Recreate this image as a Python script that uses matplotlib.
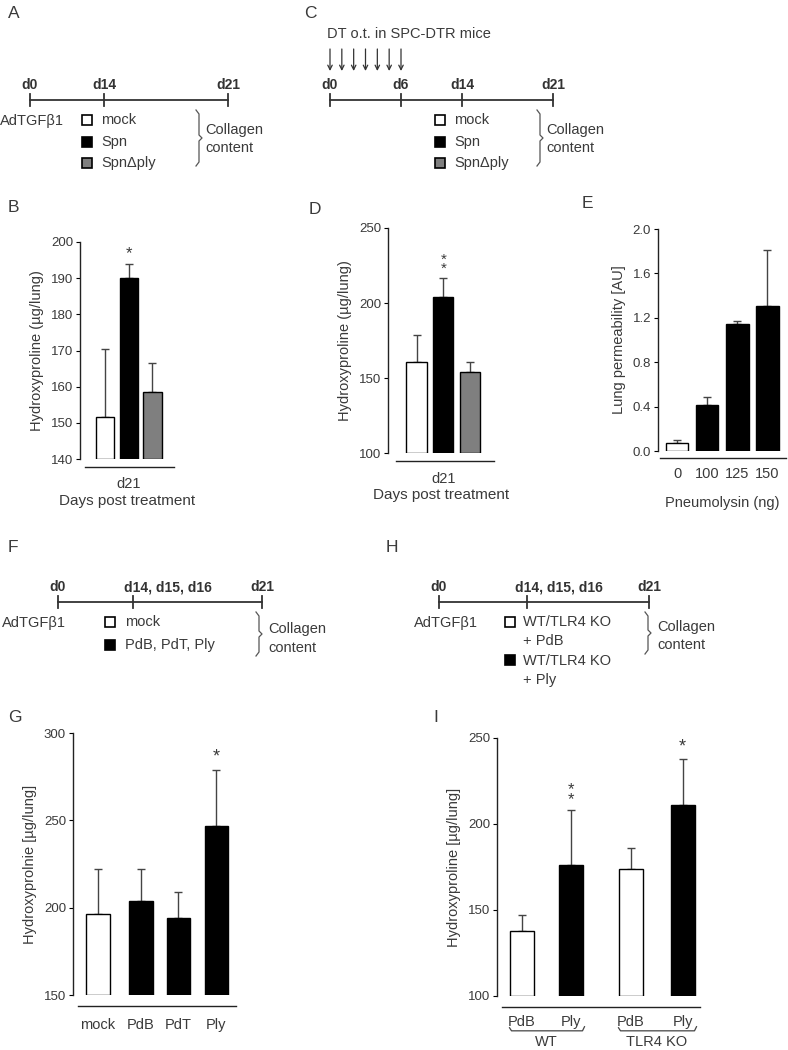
import matplotlib
matplotlib.use("Agg")
import matplotlib.pyplot as plt

plt.rcParams['font.family'] = ['Liberation Sans', 'DejaVu Sans']

W, H = 788, 1050
TXT = '#3a3a3a'
ECOL = '#444444'

# ---------------- data ----------------
B_groups = ['mock', 'Spn', 'SpnΔply']
B_vals = [151.5, 190.0, 158.5]
B_err = [19.0, 4.0, 8.0]
B_colors = ['white', 'black', '#7f7f7f']

D_vals = [161.0, 204.0, 154.0]
D_err = [18.0, 13.0, 7.0]

E_labels = ['0', '100', '125', '150']
E_vals = [0.07, 0.41, 1.14, 1.31]
E_err = [0.03, 0.08, 0.03, 0.50]
E_colors = ['white', 'black', 'black', 'black']

G_labels = ['mock', 'PdB', 'PdT', 'Ply']
G_vals = [196.5, 204.0, 194.0, 247.0]
G_err = [25.5, 18.0, 15.0, 32.0]
G_colors = ['white', 'black', 'black', 'black']

I_labels = ['PdB', 'Ply', 'PdB', 'Ply']
I_groups = ['WT', 'TLR4 KO']
I_vals = [138.0, 176.0, 174.0, 211.0]
I_err = [9.0, 32.0, 12.0, 27.0]
I_colors = ['white', 'black', 'white', 'black']

TICK_FS = 9.5
YLAB_FS = 10.5
XLAB_FS = 11
TXT_FS = 10.5
LET_FS = 12.5

fig = plt.figure(figsize=(W / 100, H / 100), dpi=100)

# overlay for schematic timelines and panel letters
ov = fig.add_axes([0, 0, 1, 1])
ov.set_xlim(0, W)
ov.set_ylim(H, 0)
ov.axis('off')
ov.patch.set_alpha(0)


def pax(l, r, t, b):
    return fig.add_axes([l / W, 1 - b / H, (r - l) / W, (b - t) / H])


def style(ax, ylim, yticks, ylabel, xlim, bounds, outward, yfmt=None, xpad=None):
    ax.set_ylim(*ylim)
    ax.set_xlim(*xlim)
    ax.set_yticks(yticks)
    if yfmt:
        ax.set_yticklabels([yfmt.format(v) for v in yticks])
    for s in ['top', 'right']:
        ax.spines[s].set_visible(False)
    ax.spines['left'].set_linewidth(1.0)
    ax.spines['left'].set_color('#222222')
    ax.spines['bottom'].set_position(('outward', outward))
    ax.spines['bottom'].set_bounds(*bounds)
    ax.spines['bottom'].set_linewidth(1.0)
    ax.spines['bottom'].set_color('#222222')
    ax.tick_params(axis='y', length=3, width=0.8, pad=2, labelsize=TICK_FS, labelcolor=TXT)
    if xpad is None:
        xpad = outward * 0.72 + 3
    ax.tick_params(axis='x', length=0, pad=xpad, labelsize=TXT_FS, labelcolor=TXT)
    ax.set_ylabel(ylabel, fontsize=YLAB_FS, color=TXT, labelpad=5)
    ax.patch.set_alpha(0)


def bars(ax, x, vals, err, colors, width):
    base = ax.get_ylim()[0]
    ax.bar(x, [v - base for v in vals], bottom=base, width=width, color=colors,
           edgecolor='black', linewidth=1.0, zorder=2)
    ax.errorbar(x, vals, yerr=[[0] * len(vals), err], fmt='none', ecolor=ECOL,
                elinewidth=1.0, capsize=3, capthick=1.0, zorder=1)


# ---------------- B ----------------
axB = pax(80, 175, 242, 459)
xB = [0, 1, 2]
style(axB, (140, 200), [140, 150, 160, 170, 180, 190, 200], 'Hydroxyproline (µg/lung)',
      (-1.06, 2.95), (-0.85, 2.9), 6)
bars(axB, xB, B_vals, B_err, B_colors, 0.78)
axB.set_xticks([1])
axB.set_xticklabels(['d21'])
axB.set_xlabel('Days post treatment', fontsize=XLAB_FS, color=TXT, labelpad=2)
axB.text(1, B_vals[1] + B_err[1] + 0.8, '*', ha='center', va='bottom', fontsize=12, color=TXT)

# ---------------- D ----------------
axD = pax(388, 495, 228, 453)
style(axD, (100, 250), [100, 150, 200, 250], 'Hydroxyproline (µg/lung)',
      (-1.08, 2.95), (-0.78, 2.9), 6)
bars(axD, [0, 1, 2], D_vals, D_err, B_colors, 0.77)
axD.set_xticks([1])
axD.set_xticklabels(['d21'])
axD.set_xlabel('Days post treatment', fontsize=XLAB_FS, color=TXT, labelpad=2)
axD.text(1, D_vals[1] + D_err[1] + 1, '*\n*', ha='center', va='bottom', fontsize=11,
         color=TXT, linespacing=0.55)

# ---------------- E ----------------
axE = pax(658, 787, 229, 451)
style(axE, (0, 2.0), [0.0, 0.4, 0.8, 1.2, 1.6, 2.0], 'Lung permeability [AU]',
      (-0.64, 3.65), (-0.57, 3.63), 5, yfmt='{:.1f}')
bars(axE, [0, 1, 2, 3], E_vals, E_err, E_colors, 0.74)
axE.set_xticks([0, 1, 2, 3])
axE.set_xticklabels(E_labels)
axE.set_xlabel('Pneumolysin (ng)', fontsize=TXT_FS, color=TXT, labelpad=11)

# ---------------- G ----------------
axG = pax(73, 237, 733, 995)
style(axG, (150, 300), [150, 200, 250, 300], 'Hydroxyprolnie [µg/lung]',
      (-0.64, 3.56), (-0.51, 3.54), 8)
bars(axG, [0, 1.1, 2.06, 3.03], G_vals, G_err, G_colors, 0.6)
axG.set_xticks([0, 1.1, 2.06, 3.03])
axG.set_xticklabels(G_labels)
axG.text(3.03, G_vals[3] + G_err[3] + 2.5, '*', ha='center', va='bottom', fontsize=13, color=TXT)

# ---------------- I ----------------
axI = pax(497, 702, 738, 996)
xI = [0, 0.97, 2.18, 3.21]
style(axI, (100, 250), [100, 150, 200, 250], 'Hydroxyproline [µg/lung]',
      (-0.5, 3.6), (-0.4, 3.56), 8, xpad=6)
bars(axI, xI, I_vals, I_err, I_colors, 0.48)
axI.set_xticks(xI)
axI.set_xticklabels(I_labels)
axI.text(xI[1], I_vals[1] + I_err[1] + 2, '*\n*', ha='center', va='bottom', fontsize=12,
         color=TXT, linespacing=0.55)
axI.text(xI[3], I_vals[3] + I_err[3] + 2, '*', ha='center', va='bottom', fontsize=13, color=TXT)
# group brackets
for gi, name in enumerate(I_groups):
    xa, xb = xI[2 * gi] - 0.25, xI[2 * gi + 1] + 0.28
    yb = -0.135
    axI.plot([xa, xa + 0.04, xb - 0.04, xb], [yb + 0.012, yb, yb, yb + 0.016],
             transform=axI.get_xaxis_transform(), clip_on=False, color=ECOL, lw=0.9)
    axI.text((xI[2 * gi] + xI[2 * gi + 1]) / 2, -0.178, name, ha='center', va='center',
             transform=axI.get_xaxis_transform(), fontsize=TXT_FS, color=TXT)

# ---------------- schematic timelines ----------------
def timeline(xs, labels, y, offsets=None):
    ov.plot([xs[0], xs[-1]], [y, y], color='#333333', lw=1.3)
    for i, (x, lab) in enumerate(zip(xs, labels)):
        ov.plot([x, x], [y - 6, y + 6], color='#333333', lw=1.3)
        if lab:
            dx = offsets[i] if offsets else 0
            ov.text(x + dx, y - 15, lab, ha='center', va='center', fontsize=10,
                    fontweight='bold', color='#333333')


def legend_sq(x, y, fc):
    ov.add_patch(plt.Rectangle((x - 5, y - 5), 10, 10, facecolor=fc,
                               edgecolor='black', lw=1.2))


def brace(x, y0, y1):
    ym = (y0 + y1) / 2
    ov.plot([x, x + 3, x + 3, x + 6, x + 3, x + 3, x],
            [y0, y0 + 4, ym - 3, ym, ym + 3, y1 - 4, y1], color='#555555', lw=0.9)


def t(x, y, s, ha='left', size=TXT_FS, **kw):
    ov.text(x, y, s, ha=ha, va='center', fontsize=size, color=TXT, **kw)


# A
t(8, 13, 'A', size=LET_FS)
timeline([30, 104, 228], ['d0', 'd14', 'd21'], 100)
t(0, 121, 'AdTGFβ1')
for (yy, fc, lab) in [(120, 'white', 'mock'), (142, 'black', 'Spn'), (163, '#7f7f7f', 'SpnΔply')]:
    legend_sq(87, yy, fc)
    t(101, yy, lab)
brace(196, 110, 166)
t(205, 130, 'Collagen')
t(205, 148, 'content')

# C
t(304, 13, 'C', size=LET_FS)
t(327, 34, 'DT o.t. in SPC-DTR mice')
for i in range(7):
    ax_x = 330 + i * (401 - 330) / 6
    ov.annotate('', xy=(ax_x, 71), xytext=(ax_x, 49),
                arrowprops=dict(arrowstyle='->', color='#333333', lw=0.9,
                                shrinkA=0, shrinkB=0, mutation_scale=8))
timeline([330, 401, 462, 553], ['d0', 'd6', 'd14', 'd21'], 100)
for (yy, fc, lab) in [(120, 'white', 'mock'), (142, 'black', 'Spn'), (163, '#7f7f7f', 'SpnΔply')]:
    legend_sq(440, yy, fc)
    t(454, yy, lab)
brace(537, 110, 166)
t(546, 130, 'Collagen')
t(546, 148, 'content')

# B, D, E letters
t(8, 208, 'B', size=LET_FS)
t(309, 210, 'D', size=LET_FS)
t(582, 203, 'E', size=LET_FS)

# F
t(8, 548, 'F', size=LET_FS)
timeline([58, 133, 262], ['d0', 'd14, d15, d16', 'd21'], 602, offsets=[0, 35, 0])
t(2, 623, 'AdTGFβ1')
legend_sq(110, 622, 'white')
t(125, 622, 'mock')
legend_sq(110, 645, 'black')
t(125, 645, 'PdB, PdT, Ply')
brace(256, 612, 656)
t(268, 629, 'Collagen')
t(268, 648, 'content')

# H
t(386, 548, 'H', size=LET_FS)
timeline([439, 527, 649], ['d0', 'd14, d15, d16', 'd21'], 602, offsets=[0, 32, 0])
t(414, 623, 'AdTGFβ1')
legend_sq(510, 622, 'white')
t(523, 622, 'WT/TLR4 KO')
t(523, 641, '+ PdB')
legend_sq(510, 660, 'black')
t(523, 661, 'WT/TLR4 KO')
t(523, 680, '+ Ply')
brace(645, 612, 654)
t(657, 627, 'Collagen')
t(657, 645, 'content')

# G, I letters
t(8, 718, 'G', size=LET_FS)
t(433, 718, 'I', size=LET_FS)

fig.savefig('out.png', dpi=100)
